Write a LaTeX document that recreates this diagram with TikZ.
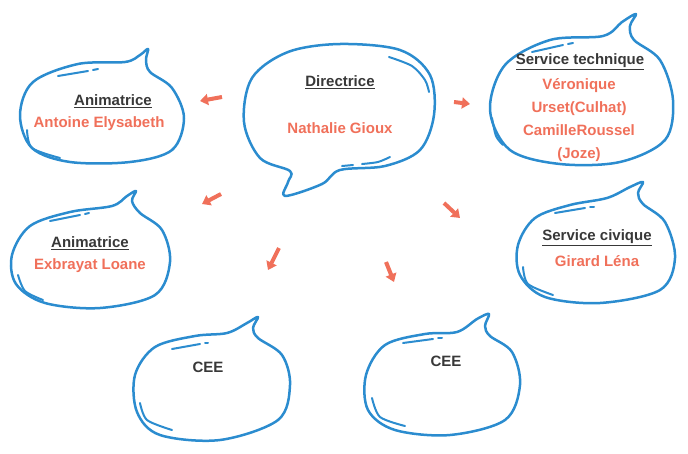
\documentclass[tikz,border=0pt]{standalone}
\usepackage{fontspec}
\setmainfont{Liberation Sans}
\usetikzlibrary{arrows.meta}
\definecolor{bleu}{HTML}{2B8CCF}
\definecolor{saumon}{HTML}{F0705A}
\definecolor{gris}{HTML}{383838}
\tikzset{
  bulle/.style={draw=bleu, line width=2.5pt, line join=round},
  reflet/.style={draw=bleu, line width=2pt, line cap=round},
  titre/.style={text=gris, font=\fontsize{15}{18}\selectfont\bfseries},
  nom/.style={text=saumon, font=\fontsize{15}{23}\selectfont\bfseries, align=center},
  fleche/.style={draw=saumon, line width=4pt, -{Triangle[length=8pt,width=11pt]}}
}
\begin{document}
\begin{tikzpicture}[x=1pt, y=-1pt]
    \useasboundingbox (0,0) rectangle (688,453);
    % bulles
    \draw[bulle] plot[smooth cycle, tension=0.55] coordinates {(290,171) (260,158) (244,122) (252,78) (288,52) (340,44) (400,50) (430,75) (434,115) (420,150) (385,166) (340,170) (322,184) (285,196) (288,182)};
    \draw[bulle] plot[smooth cycle, tension=0.55] coordinates {(125,62) (140,55) (148,49) (146,60) (150,72) (172,88) (184,118) (172,150) (130,162) (70,162) (32,148) (20,115) (33,82) (78,64)};
    \draw[bulle] plot[smooth cycle, tension=0.55] coordinates {(112,206) (127,196) (136,191) (132,201) (140,213) (162,230) (170,262) (155,295) (100,308) (45,303) (16,284) (12,255) (30,226) (70,212)};
    \draw[bulle] plot[smooth cycle, tension=0.55] coordinates {(603,36) (622,22) (636,14) (630,26) (634,40) (660,60) (673,100) (665,140) (620,162) (560,164) (510,150) (490,110) (505,65) (550,40)};
    \draw[bulle] plot[smooth cycle, tension=0.55] coordinates {(607,198) (630,187) (643,182) (638,193) (643,204) (665,222) (675,258) (660,290) (600,303) (545,297) (520,275) (518,245) (535,218) (570,205)};
    \draw[bulle] plot[smooth cycle, tension=0.55] coordinates {(227,333) (247,323) (258,317) (253,328) (258,338) (282,355) (290,385) (278,420) (220,440) (160,435) (137,412) (135,375) (155,347) (195,336)};
    \draw[bulle] plot[smooth cycle, tension=0.55] coordinates {(457,332) (477,319) (489,314) (485,326) (490,336) (512,352) (520,385) (505,420) (450,435) (395,430) (368,410) (366,375) (385,345) (425,334)};
    % reflets
    \draw[reflet] plot[smooth] coordinates {(389,57) (412,66) (425,80) (429,92)};
    \draw[reflet] (342,166) -- (353,165);
    \draw[reflet] plot[smooth] coordinates {(362,164) (378,162) (390,157)};
    \draw[reflet] (58,76) -- (88,71);  \draw[reflet] (93,70) -- (98,69);
    \draw[reflet] plot[smooth] coordinates {(27,130) (32,148) (60,158)};
    \draw[reflet] (50,221) -- (80,215); \draw[reflet] (85,214) -- (89,213);
    \draw[reflet] plot[smooth] coordinates {(18,275) (25,291) (43,300)};
    \draw[reflet] (532,52) -- (563,45); \draw[reflet] (568,44) -- (573,43);
    \draw[reflet] plot[smooth] coordinates {(492,118) (496,136) (503,145)};
    \draw[reflet] (555,213) -- (585,208); \draw[reflet] (590,207) -- (594,207);
    \draw[reflet] plot[smooth] coordinates {(523,267) (528,284) (553,295)};
    \draw[reflet] (172,349) -- (200,344); \draw[reflet] (205,343) -- (208,343);
    \draw[reflet] plot[smooth] coordinates {(140,403) (147,420) (172,430)};
    \draw[reflet] (403,343) -- (433,339); \draw[reflet] (438,338) -- (442,338);
    \draw[reflet] plot[smooth] coordinates {(372,398) (380,417) (405,426)};
    % textes
    \node[titre] (dir) at (340,82) {\underline{Directrice}};
    \node[nom] (dirnom) at (340,128) {Nathalie Gioux};
    \node[titre] (anim1) at (113,101) {\underline{Animatrice}};
    \node[nom] (anim1nom) at (99,124) {Antoine Elysabeth};
    \node[titre] (anim2) at (90,243) {\underline{Animatrice}};
    \node[nom] (anim2nom) at (90,266) {Exbrayat Loane};
    \node[titre] (tech) at (580,62) {\underline{Service technique}};
    \node[nom] (technom) at (579,120) {Véronique\\Urset(Culhat)\\CamilleRoussel\\(Joze)};
    \node[titre] (civ) at (597,238) {\underline{Service civique}};
    \node[nom] (civnom) at (597,261) {Girard Léna};
    \node[titre] (cee1) at (208,367) {CEE};
    \node[titre] (cee2) at (446,361) {CEE};
    % fleches
    \coordinate (f1a) at (222,97);  \coordinate (f1b) at (200,101);
    \coordinate (f2a) at (454,102); \coordinate (f2b) at (470,104);
    \coordinate (f3a) at (221,194); \coordinate (f3b) at (202,204);
    \coordinate (f4a) at (279,248); \coordinate (f4b) at (268,270);
    \coordinate (f5a) at (444,203); \coordinate (f5b) at (460,218);
    \coordinate (f6a) at (386,262); \coordinate (f6b) at (394,282);
    \draw[fleche] (f1a) -- (f1b);
    \draw[fleche] (f2a) -- (f2b);
    \draw[fleche] (f3a) -- (f3b);
    \draw[fleche] (f4a) -- (f4b);
    \draw[fleche] (f5a) -- (f5b);
    \draw[fleche] (f6a) -- (f6b);
\end{tikzpicture}
\end{document}
